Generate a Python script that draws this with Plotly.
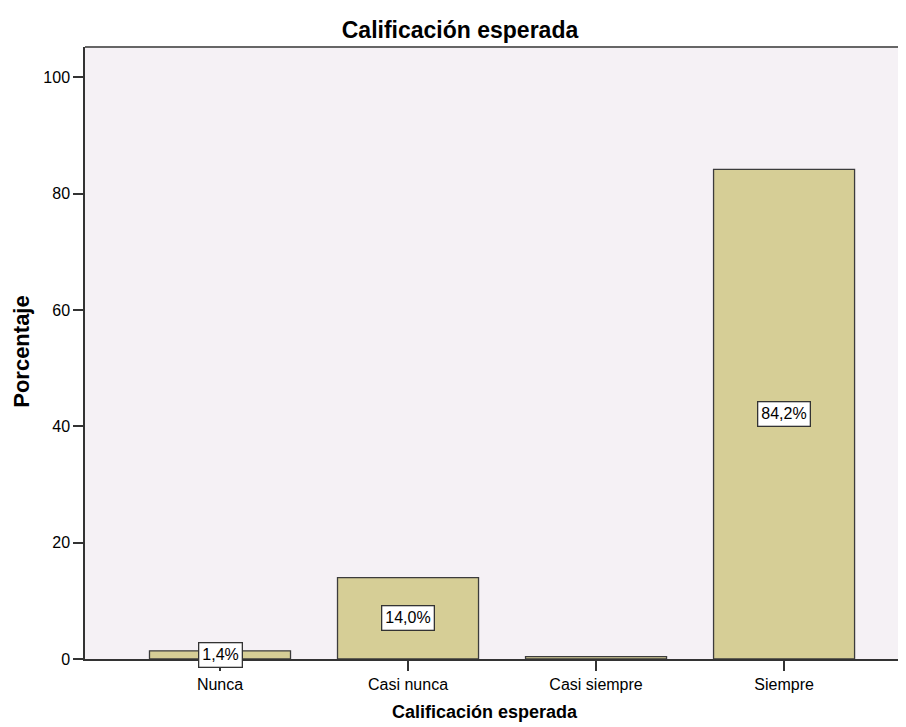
import plotly.graph_objects as go

categories = ["Nunca", "Casi nunca", "Casi siempre", "Siempre"]
percentages = [1.4, 14.0, 0.4, 84.2]
labels = ["1,4%", "14,0%", "", "84,2%"]
y_ticks = [0, 20, 40, 60, 80, 100]

FONT = "Liberation Sans, Arial, sans-serif"

fig = go.Figure()
fig.add_trace(go.Bar(
    x=categories, y=percentages, width=0.75,
    marker=dict(color="#D6CE96", line=dict(color="#3c3c3c", width=1.3)),
    hoverinfo="skip",
))

for c, v, t in zip(categories, percentages, labels):
    if t:
        fig.add_annotation(
            x=c, y=v / 2, text=t, showarrow=False,
            font=dict(family=FONT, size=16, color="black"),
            bgcolor="white", bordercolor="#333333", borderwidth=1.3, borderpad=3,
        )

# top frame line
fig.add_shape(type="line", xref="paper", yref="paper", x0=0, x1=1, y0=1, y1=1,
              line=dict(color="#666666", width=2))

# axis titles as annotations for precise placement
fig.add_annotation(
    text="<b>Calificación esperada</b>", xref="paper", yref="paper",
    x=(485 - 85) / 813, y=0, xanchor="center", yanchor="middle", yshift=-53,
    showarrow=False, font=dict(family=FONT, size=18, color="black"),
)
fig.add_annotation(
    text="<b>Porcentaje</b>", xref="paper", yref="paper",
    x=0, y=0.502, xanchor="center", yanchor="middle", xshift=-63,
    textangle=-90, showarrow=False, font=dict(family=FONT, size=22, color="black"),
)

fig.update_layout(
    width=890, height=719,
    margin=dict(l=77, r=0, t=39, b=68),
    paper_bgcolor="white", plot_bgcolor="#F5F1F5",
    font=dict(family=FONT, size=16, color="black"),
    title=dict(text="<b>Calificación esperada</b>", xref="paper",
               x=(460 - 85) / 813, xanchor="center", y=1 - 22 / 719,
               yanchor="middle",
               font=dict(family=FONT, size=23, color="black")),
    showlegend=False,
)
fig.update_xaxes(
    range=[-0.718, 3.606], showgrid=False, zeroline=False,
    showline=True, linecolor="#333333", linewidth=1.5,
    ticks="outside", ticklen=10, tickcolor="#333333", tickwidth=1.5,
    tickfont=dict(size=16),
)
fig.update_yaxes(
    range=[0, 105.24], tickvals=y_ticks, showgrid=False, zeroline=False,
    showline=True, linecolor="#333333", linewidth=1.5,
    ticks="outside", ticklen=10, tickcolor="#333333", tickwidth=1.5,
    tickfont=dict(size=16),
)

fig.write_html("out.html")
